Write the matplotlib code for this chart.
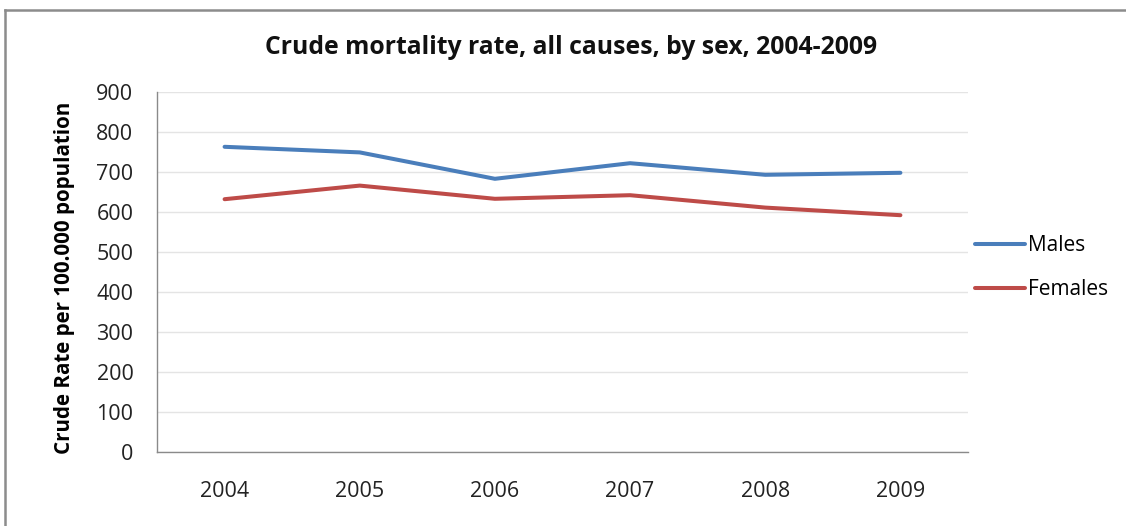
import matplotlib.pyplot as plt
from matplotlib.lines import Line2D

years = ["2004", "2005", "2006", "2007", "2008", "2009"]
males = [763, 749, 683, 722, 693, 698]
females = [632, 666, 633, 642, 611, 592]
y_ticks = [0, 100, 200, 300, 400, 500, 600, 700, 800, 900]

plt.rcParams['font.family'] = ['Open Sans', 'DejaVu Sans']

fig = plt.figure(figsize=(11.26, 5.26), dpi=100)
ax = fig.add_axes([157 / 1126, 1 - 452 / 526, (968 - 157) / 1126, 360 / 526])

x = range(len(years))
ax.plot(x, males, color='#4A7EBB', linewidth=2.9, solid_capstyle='round', label='Males')
ax.plot(x, females, color='#BE4B48', linewidth=2.9, solid_capstyle='round', label='Females')

ax.set_xlim(-0.5, len(years) - 0.5)
ax.set_ylim(0, 900)
ax.set_yticks(y_ticks)
ax.set_xticks(list(x))
ax.set_xticklabels(years)
ax.tick_params(axis='both', length=0, labelsize=15.5, colors='#222222')
ax.tick_params(axis='x', pad=21)
ax.tick_params(axis='y', pad=17)

ax.grid(axis='y', color='#e4e4e4', linewidth=1)
ax.set_axisbelow(True)
for side in ['top', 'right']:
    ax.spines[side].set_visible(False)
for side in ['left', 'bottom']:
    ax.spines[side].set_color('#8a8a8a')
    ax.spines[side].set_linewidth(1)

ax.set_ylabel('Crude Rate per 100.000 population', fontsize=14.8, fontweight='bold')
ax.yaxis.set_label_coords(-0.101, 0.485)

fig.text(571 / 1126, 1 - 47 / 526, 'Crude mortality rate, all causes, by sex, 2004-2009',
         ha='center', va='center', fontsize=17.8, fontweight='bold', color='#111111')

ax.legend(loc='center left', bbox_to_anchor=(0.993, 0.512), frameon=False,
          fontsize=15, handlelength=2.4, handletextpad=0.15, labelspacing=1.1,
          borderaxespad=0.2)

# outer chart frame
frame_color = '#8c8c8c'
fig.add_artist(Line2D([5 / 1126, 5 / 1126], [0, 1 - 10 / 526], transform=fig.transFigure,
                      color=frame_color, linewidth=1.8))
fig.add_artist(Line2D([5 / 1126, 1], [1 - 10 / 526, 1 - 10 / 526], transform=fig.transFigure,
                      color=frame_color, linewidth=1.8))

fig.savefig('out.png', dpi=100)
